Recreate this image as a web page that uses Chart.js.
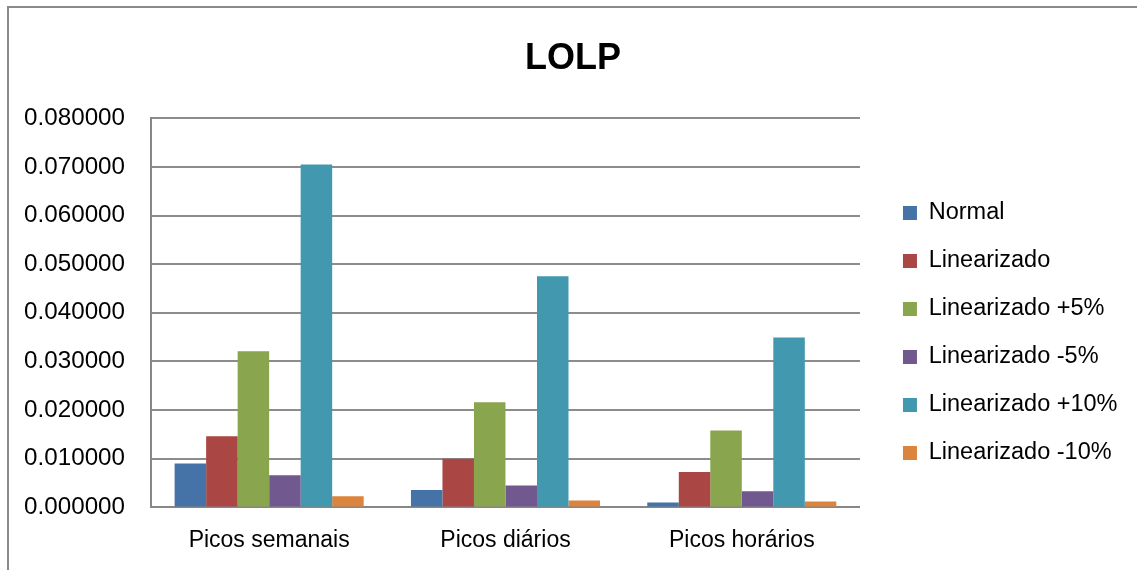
<!DOCTYPE html>
<html>
<head>
<meta charset="utf-8">
<script src="https://cdn.jsdelivr.net/npm/chart.js@4/dist/chart.umd.min.js"></script>
<style>
  html, body { margin: 0; padding: 0; background: #fff; overflow: hidden; }
  #frame { position: absolute; left: 7px; top: 6px; width: 1200px; height: 700px;
           border-left: 2px solid #8a8a8a; border-top: 2px solid #8a8a8a; }
  #wrap { position: absolute; left: 0; top: 0; width: 1137px; height: 570px; }
</style>
</head>
<body>
<div id="frame"></div>
<div id="wrap"><canvas id="chart" width="1137" height="570"></canvas></div>
<script>
var categories = ['Picos semanais', 'Picos diários', 'Picos horários'];
var seriesNames = ['Normal', 'Linearizado', 'Linearizado +5%', 'Linearizado -5%', 'Linearizado +10%', 'Linearizado -10%'];
var normal = [0.0090, 0.0036, 0.0010];
var linearizado = [0.0146, 0.0100, 0.0073];
var linMais5 = [0.0321, 0.0216, 0.0158];
var linMenos5 = [0.0066, 0.0045, 0.0033];
var linMais10 = [0.0705, 0.0475, 0.0349];
var linMenos10 = [0.0023, 0.0014, 0.0012];
var colors = ['#4572A7', '#AA4643', '#89A54E', '#71588F', '#4198AF', '#DB843D'];

var allValues = [normal, linearizado, linMais5, linMenos5, linMais10, linMenos10];
var fontName = '"Liberation Sans", Arial, sans-serif';

var datasets = [];
for (var i = 0; i < seriesNames.length; i++) {
    datasets.push({
        label: seriesNames[i],
        data: allValues[i],
        backgroundColor: colors[i],
        borderWidth: 0,
        categoryPercentage: 0.8,
        barPercentage: 1.0
    });
}

Chart.defaults.font.family = fontName;
Chart.defaults.color = '#000';

var ctx = document.getElementById('chart').getContext('2d');
var chart = new Chart(ctx, {
    type: 'bar',
    data: { labels: categories, datasets: datasets },
    options: {
        responsive: false,
        animation: false,
        layout: { padding: { left: 18.5, right: 9.5, top: 20, bottom: -3 } },
        plugins: {
            title: {
                display: true,
                text: 'LOLP',
                font: { size: 36, weight: 'bold', family: fontName },
                color: '#000',
                padding: { top: 17, bottom: 38 }
            },
            legend: {
                position: 'right',
                align: 'center',
                maxWidth: 400,
                title: { display: true, text: ' ', padding: 22.4, font: { size: 23.5 } },
                labels: {
                    boxWidth: 14,
                    boxHeight: 14,
                    padding: 24.5,
                    font: { size: 23.5, family: fontName },
                    color: '#000'
                }
            },
            tooltip: { enabled: false }
        },
        scales: {
            x: {
                grid: { display: false, drawTicks: false },
                border: { color: '#878787', width: 2 },
                ticks: { font: { size: 23 }, padding: 19, color: '#000' }
            },
            y: {
                min: 0,
                max: 0.08,
                grid: { color: '#8c8c8c', lineWidth: 2, drawTicks: false },
                border: { color: '#878787', width: 2 },
                ticks: {
                    stepSize: 0.01,
                    padding: 26,
                    font: { size: 24.2 },
                    color: '#000',
                    callback: function (v) { return Number(v).toFixed(6); }
                },
                afterFit: function (scale) { scale.width = 132.5; }
            },
            // empty axis, only keeps the gap between the bars and the legend
            gap: {
                position: 'right',
                display: true,
                grid: { display: false, drawTicks: false },
                border: { display: false },
                ticks: { display: false },
                afterFit: function (scale) { scale.width = 18.5; }
            }
        }
    }
});
</script>
</body>
</html>
